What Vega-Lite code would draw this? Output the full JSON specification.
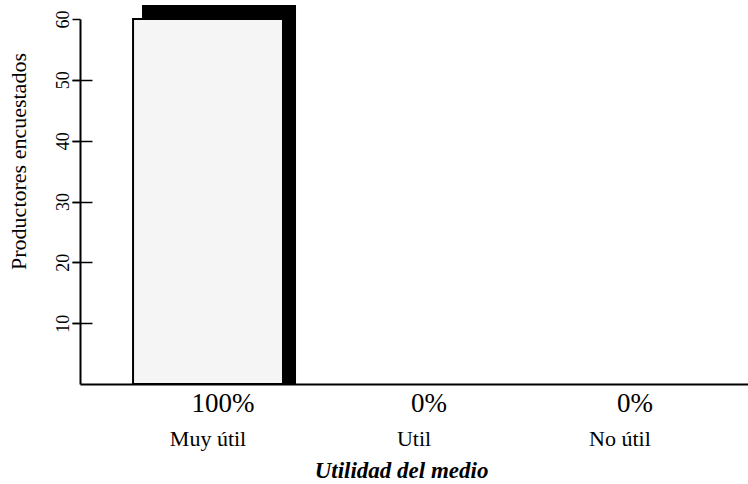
{
  "$schema": "https://vega.github.io/schema/vega-lite/v6.json",
  "width": 668,
  "height": 365,
  "autosize": "none",
  "padding": {"left": 80, "top": 19, "right": 0, "bottom": 100},
  "background": "white",
  "config": {"view": {"stroke": null}, "font": "Liberation Serif"},
  "data": {
    "values": [
      {"utilidad": "Muy útil", "productores": 60, "porcentaje": 1},
      {"utilidad": "Util", "productores": 0, "porcentaje": 0},
      {"utilidad": "No útil", "productores": 0, "porcentaje": 0}
    ]
  },
  "encoding": {
    "x": {
      "field": "utilidad",
      "type": "nominal",
      "sort": null,
      "scale": {"paddingInner": 0.272, "paddingOuter": 0.2575},
      "axis": {
        "title": "Utilidad del medio",
        "titleFont": "Liberation Serif",
        "titleFontSize": 23,
        "titleFontStyle": "italic",
        "titleFontWeight": "bold",
        "titleColor": "black",
        "titleX": 321,
        "titleY": 93,
        "titleAlign": "center",
        "titleBaseline": "alphabetic",
        "labelAngle": 0,
        "labelFont": "Liberation Serif",
        "labelFontSize": 22,
        "labelColor": "black",
        "labelBaseline": "alphabetic",
        "labelPadding": 61,
        "ticks": false,
        "tickSize": 0,
        "domainColor": "black",
        "domainWidth": 2,
        "grid": false
      }
    }
  },
  "resolve": {"axis": {"y": "independent"}},
  "layer": [
    {
      "transform": [{"filter": "datum.productores > 0"}],
      "mark": {"type": "bar", "color": "black", "width": 154, "xOffset": 11, "yOffset": -14, "y2Offset": 0},
      "encoding": {
        "y": {
          "field": "productores",
          "type": "quantitative",
          "scale": {"domain": [0, 60], "nice": false},
          "axis": {
            "orient": "left",
            "values": [10, 20, 30, 40, 50, 60],
            "title": "Productores encuestados",
            "titleFont": "Liberation Serif",
            "titleFontSize": 22,
            "titleFontWeight": "normal",
            "titleColor": "black",
            "titleAngle": -90,
            "titleAlign": "center",
            "titleBaseline": "middle",
            "titleX": -62,
            "titleY": 142,
            "labelAngle": -90,
            "labelAlign": "center",
            "labelBaseline": "alphabetic",
            "labelFont": "Liberation Serif",
            "labelFontSize": 18,
            "labelColor": "black",
            "labelPadding": 4,
            "tickSize": 8,
            "tickWidth": 1.5,
            "tickColor": "black",
            "domainColor": "black",
            "domainWidth": 2,
            "grid": false
          }
        },
        "y2": {"datum": 0}
      }
    },
    {
      "transform": [{"filter": "datum.productores > 0"}],
      "mark": {"type": "bar", "fill": "#f5f5f5", "stroke": "black", "strokeWidth": 2},
      "encoding": {
        "y": {
          "field": "productores",
          "type": "quantitative",
          "axis": {
            "orient": "left",
            "values": [10, 20, 30, 40, 50],
            "title": null,
            "labels": false,
            "domain": false,
            "ticks": true,
            "tickSize": 20,
            "tickWidth": 1.5,
            "tickColor": "black",
            "offset": -12,
            "grid": false
          }
        }
      }
    },
    {
      "mark": {"type": "text", "font": "Liberation Serif", "fontSize": 27, "color": "black", "baseline": "alphabetic", "align": "center", "dx": 15, "dy": 28},
      "encoding": {
        "y": {"datum": 0, "type": "quantitative", "axis": null},
        "text": {"field": "porcentaje", "type": "quantitative", "format": ".0%"}
      }
    }
  ]
}
